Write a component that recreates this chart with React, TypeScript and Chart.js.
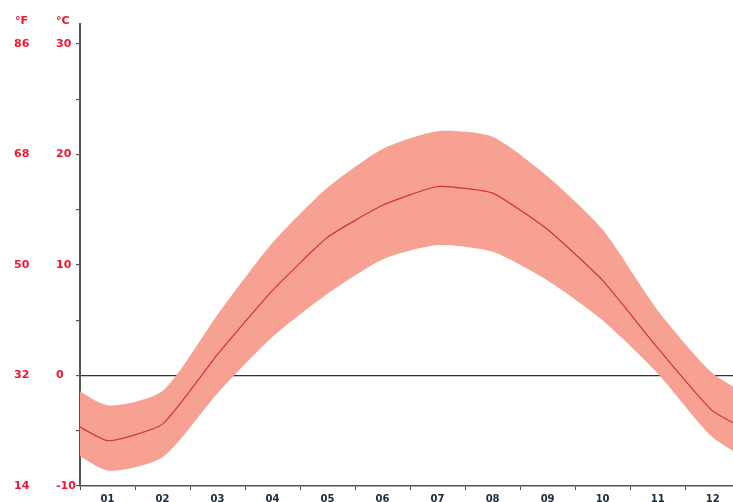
import React, { useEffect, useRef } from "react";
import { Chart, registerables } from "chart.js";

Chart.register(...registerables);

const monthLabels = ["01", "02", "03", "04", "05", "06", "07", "08", "09", "10", "11", "12"];
const tMax = [-2.7, -1.4, 5.5, 12.0, 17.0, 20.5, 22.1, 21.6, 18.0, 13.2, 5.9, 0.2];
const tMean = [-5.9, -4.4, 1.9, 7.7, 12.5, 15.4, 17.1, 16.5, 13.2, 8.6, 2.5, -3.2];
const tMin = [-8.6, -7.4, -1.6, 3.5, 7.4, 10.5, 11.8, 11.2, 8.6, 5.0, 0.2, -5.6];
const celsiusTicks = [-10, 0, 10, 20, 30];
const fahrenheitTicks = [14, 32, 50, 68, 86];

const RED = "#ef1530";
const BAND = "#f7a193";

function wrap(arr: number[]) {
  return [
    { x: 0, y: arr[11] },
    ...arr.map((v, i) => ({ x: i + 1, y: v })),
    { x: 13, y: arr[0] },
  ];
}

const headerPlugin = {
  id: "headers",
  afterDraw(chart: any) {
    const ctx = chart.ctx;
    ctx.save();
    ctx.font = 'bold 11px "DejaVu Sans"';
    ctx.fillStyle = RED;
    ctx.textAlign = "left";
    ctx.textBaseline = "middle";
    ctx.fillText("°F", 15, 21);
    ctx.fillText("°C", 56, 21);
    ctx.restore();
  },
};

export default function App() {
  const ref = useRef<HTMLCanvasElement | null>(null);
  useEffect(() => {
    if (!ref.current) return;
    const chart = new Chart(ref.current, {
      type: "line",
      data: {
        datasets: [
          {
            label: "max",
            data: wrap(tMax),
            order: 2,
            borderWidth: 0,
            borderColor: BAND,
            backgroundColor: BAND,
            pointRadius: 0,
            tension: 0.22,
            fill: "+1",
            yAxisID: "yC",
          },
          {
            label: "min",
            data: wrap(tMin),
            order: 3,
            borderWidth: 0,
            borderColor: BAND,
            pointRadius: 0,
            tension: 0.22,
            fill: false,
            yAxisID: "yC",
          },
          {
            label: "mean",
            data: wrap(tMean),
            order: 0,
            borderWidth: 1.2,
            borderColor: "#cf3438",
            pointRadius: 0,
            tension: 0.15,
            fill: false,
            yAxisID: "yC",
          },
        ],
      },
      options: {
        responsive: false,
        animation: false,
        layout: { padding: { left: 14, top: 24, right: 0, bottom: 0 } },
        plugins: { legend: { display: false }, tooltip: { enabled: false } },
        scales: {
          x: {
            type: "linear",
            min: 0.5,
            max: 12.37,
            afterFit: (s: any) => {
              s.height = 16;
            },
            ticks: {
              stepSize: 0.5,
              includeBounds: false,
              autoSkip: false,
              maxRotation: 0,
              padding: 3,
              color: "#1b2a3b",
              font: { family: "DejaVu Sans", size: 10, weight: "bold" },
              callback: (v: any) => (Number.isInteger(v) ? monthLabels[v - 1] : ""),
            },
            grid: {
              drawOnChartArea: false,
              tickLength: 4,
              tickColor: (c: any) =>
                c.tick && Number.isInteger(c.tick.value) ? "rgba(0,0,0,0)" : "#444",
            },
            border: { display: true, color: "#555", width: 1.5 },
          },
          yF: {
            type: "linear",
            position: "left",
            weight: 10,
            min: -10,
            max: 31.8,
            afterFit: (s: any) => {
              s.width = 42;
            },
            afterBuildTicks: (s: any) => {
              s.ticks = celsiusTicks.map((v) => ({ value: v }));
            },
            ticks: {
              crossAlign: "far",
              color: RED,
              font: { family: "DejaVu Sans", size: 11, weight: "bold" },
              callback: (v: any) => {
                const i = celsiusTicks.indexOf(v);
                return i >= 0 ? String(fahrenheitTicks[i]) : "";
              },
            },
            grid: { display: false },
            border: { display: false },
          },
          yC: {
            type: "linear",
            position: "left",
            weight: 0,
            z: 1,
            min: -10,
            max: 31.8,
            afterFit: (s: any) => {
              s.width = 24;
            },
            ticks: {
              stepSize: 5,
              includeBounds: false,
              crossAlign: "far",
              color: RED,
              font: { family: "DejaVu Sans", size: 11, weight: "bold" },
              callback: (v: any) => (celsiusTicks.includes(v) ? String(v) : ""),
            },
            grid: {
              tickLength: 4,
              lineWidth: 1.2,
              color: (c: any) => (c.tick && c.tick.value === 0 ? "#333" : "rgba(0,0,0,0)"),
              tickColor: "#555",
            },
            border: { display: true, color: "#555", width: 2 },
          },
        },
      },
      plugins: [headerPlugin],
    } as any);
    return () => chart.destroy();
  }, []);
  return (
    <div style={{ position: "fixed", left: 0, top: 0, width: 733, height: 502, background: "#fff" }}>
      <canvas ref={ref} width={733} height={502} style={{ display: "block" }} />
    </div>
  );
}
